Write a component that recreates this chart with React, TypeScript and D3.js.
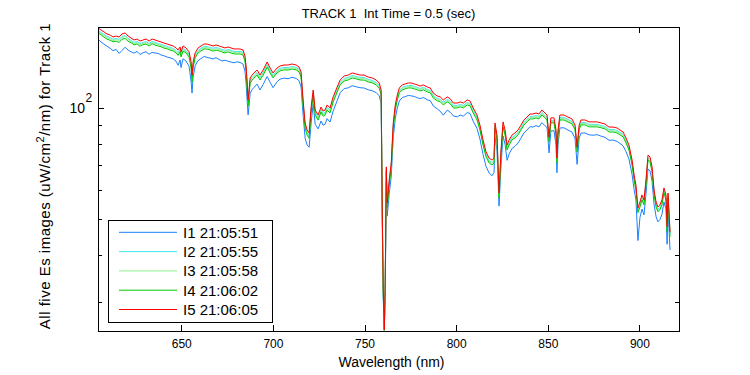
import * as d3 from "d3";

// wavelength grid (nm) shared by all five images
const wavelengths = [
  604.3, 605.9, 607.6, 609.2, 610.9, 612.5, 614.2, 615.8, 617.4, 619.1,
  620.7, 622.3, 624.0, 625.6, 627.2, 628.9, 630.5, 632.2, 633.8, 635.4,
  637.1, 638.7, 640.3, 642.0, 643.6, 645.3, 646.9, 648.0, 649.1, 649.6,
  650.7, 652.3, 654.0, 655.1, 655.6, 656.2, 657.3, 658.9, 660.5, 662.2,
  663.8, 665.4, 667.1, 668.7, 670.4, 672.0, 673.6, 675.3, 676.9, 678.5,
  680.2, 681.8, 683.4, 684.5, 685.1, 685.6, 686.2, 686.7, 687.3, 688.4,
  689.4, 691.1, 692.7, 694.4, 696.6, 698.2, 699.8, 702.0, 703.6, 705.8,
  708.0, 710.2, 712.4, 714.0, 715.1, 716.2, 717.3, 718.4, 719.5, 720.6,
  721.7, 722.8, 724.4, 726.0, 727.1, 728.2, 729.3, 730.9, 732.6, 734.8,
  736.4, 738.6, 740.8, 743.0, 745.1, 747.3, 749.5, 751.7, 753.9, 756.1,
  757.7, 758.8, 759.4, 759.9, 760.5, 761.0, 761.6, 762.1, 763.2, 764.3,
  765.4, 766.5, 767.6, 768.7, 770.3, 771.9, 773.6, 775.2, 776.9, 778.5,
  780.1, 781.8, 784.0, 785.6, 787.2, 789.4, 791.0, 792.7, 794.9, 796.5,
  798.2, 800.3, 802.0, 803.6, 805.8, 807.3, 809.0, 811.1, 812.7, 814.4,
  816.0, 817.7, 819.3, 820.4, 820.9, 822.0, 823.1, 824.2, 825.3, 826.4,
  827.5, 828.6, 830.2, 831.8, 833.5, 835.1, 836.7, 838.4, 840.0, 841.6,
  843.3, 844.9, 846.5, 848.2, 849.3, 850.4, 851.4, 853.1, 854.2, 854.7,
  855.3, 856.3, 858.5, 860.7, 862.9, 864.6, 865.7, 866.8, 867.8, 870.0,
  872.2, 874.4, 876.6, 878.8, 880.9, 883.1, 885.3, 887.5, 889.1, 890.8,
  892.4, 894.0, 895.7, 896.8, 897.8, 898.9, 900.0, 901.1, 902.2, 903.3,
  904.4, 905.5, 906.6, 907.7, 908.8, 909.8, 910.9, 912.0, 913.1, 914.2,
  914.8, 915.3, 916.4,
];

const i1 = [
  153.5, 151.0, 148.8, 147.0, 145.2, 143.0, 144.1, 140.5, 143.2, 146.0,
  143.5, 142.0, 140.8, 142.3, 139.6, 141.2, 142.0, 139.8, 141.5, 140.9,
  140.6, 139.2, 138.5, 137.4, 136.8, 135.9, 133.8, 130.6, 134.9, 128.7,
  136.0, 134.1, 129.8, 118.0, 109.9, 121.5, 130.2, 134.5, 136.1, 137.9,
  137.2, 136.5, 135.8, 136.9, 135.4, 134.1, 134.8, 133.9, 133.2, 132.6,
  133.4, 132.9, 131.6, 125.9, 116.8, 106.2, 96.0, 101.3, 109.5, 112.4,
  113.8, 116.2, 112.0, 115.9, 121.8, 117.5, 113.6, 117.9, 119.8, 120.6,
  120.1, 121.2, 120.4, 118.6, 114.2, 96.1, 83.2, 79.6, 78.5, 91.4,
  102.8, 90.5, 88.0, 92.4, 90.0, 90.6, 93.8, 91.8, 98.3, 104.9,
  110.1, 113.0, 113.5, 115.0, 114.3, 113.6, 113.4, 112.2, 111.5, 110.2,
  108.1, 103.0, 49.0, 31.0, 25.2, 31.2, 63.4, 51.2, 58.9, 65.4,
  83.5, 93.8, 100.2, 104.6, 106.9, 107.5, 108.3, 108.0, 107.6, 106.8,
  106.2, 106.9, 105.4, 104.8, 101.5, 99.6, 98.2, 95.8, 98.9, 97.5,
  95.4, 94.8, 95.9, 95.2, 97.4, 96.8, 92.3, 88.2, 82.6, 75.0,
  69.8, 66.9, 65.8, 67.2, 83.8, 77.0, 54.5, 70.3, 84.2, 79.9,
  72.4, 75.3, 77.9, 79.0, 80.6, 83.1, 85.8, 87.4, 89.2, 89.0,
  89.8, 89.1, 91.5, 89.7, 88.6, 75.8, 86.9, 87.0, 79.5, 67.0,
  79.8, 88.5, 88.6, 87.4, 86.3, 82.8, 70.6, 82.9, 85.7, 85.8,
  84.8, 84.6, 84.9, 84.1, 83.5, 82.0, 82.1, 81.4, 80.4, 79.2,
  76.4, 73.0, 66.2, 60.4, 56.6, 44.0, 50.8, 53.5, 51.6, 58.8,
  68.6, 67.8, 63.6, 55.1, 51.0, 49.4, 50.1, 51.8, 55.9, 53.4,
  43.0, 53.9, 41.5,
];

const i2 = [
  162.1, 160.2, 158.2, 156.2, 155.2, 153.3, 154.3, 153.3, 156.2, 157.2,
  154.3, 152.4, 150.5, 151.4, 149.5, 150.5, 151.4, 149.5, 151.4, 150.5,
  149.5, 148.6, 147.7, 146.8, 145.9, 145.0, 143.2, 141.4, 144.1, 139.8,
  145.0, 143.2, 139.8, 131.3, 121.1, 131.3, 138.9, 143.2, 145.0, 146.8,
  146.8, 145.9, 145.0, 145.9, 145.0, 144.1, 143.2, 144.1, 143.2, 142.3,
  142.3, 142.3, 141.4, 136.2, 128.1, 117.4, 103.7, 110.3, 118.9, 121.1,
  122.6, 124.9, 121.1, 124.9, 131.3, 126.5, 122.6, 126.5, 128.1, 128.8,
  128.8, 129.6, 128.8, 127.3, 123.4, 103.7, 89.9, 86.1, 84.5, 99.3,
  110.3, 97.4, 94.5, 99.3, 96.8, 97.4, 100.6, 98.7, 105.7, 112.4,
  117.4, 120.4, 121.1, 122.6, 121.8, 121.1, 121.1, 119.6, 118.9, 117.4,
  115.2, 110.3, 52.4, 32.9, 25.2, 32.9, 68.5, 54.8, 63.1, 70.1,
  89.9, 100.6, 107.0, 111.7, 113.9, 114.6, 115.2, 115.2, 114.6, 113.9,
  113.1, 113.9, 112.4, 111.7, 108.3, 106.3, 105.7, 103.7, 105.7, 104.4,
  101.8, 101.8, 102.4, 101.8, 103.7, 103.0, 98.7, 94.5, 88.7, 80.9,
  75.2, 72.3, 71.4, 72.3, 89.9, 83.4, 58.2, 76.0, 90.5, 86.1,
  78.4, 80.9, 83.4, 84.5, 86.1, 88.7, 91.6, 93.3, 95.1, 95.1,
  95.6, 95.1, 97.4, 95.6, 94.5, 82.4, 92.8, 92.8, 86.1, 72.3,
  86.1, 94.5, 94.5, 93.3, 92.2, 88.7, 77.4, 88.7, 91.6, 91.6,
  90.5, 90.5, 90.5, 89.9, 89.3, 87.7, 87.7, 87.2, 86.1, 85.0,
  81.9, 78.4, 71.4, 65.1, 61.2, 53.1, 55.1, 57.5, 55.8, 63.1,
  73.7, 72.8, 68.5, 59.3, 55.1, 53.4, 54.1, 55.8, 60.1, 57.5,
  47.2, 58.2, 45.7,
];

const i3 = [
  161.0, 159.0, 157.1, 155.1, 154.1, 152.2, 153.2, 152.2, 155.1, 156.1,
  153.2, 151.3, 149.4, 150.3, 148.5, 149.4, 150.3, 148.5, 150.3, 149.4,
  148.5, 147.6, 146.6, 145.7, 144.8, 144.0, 142.2, 140.4, 143.1, 138.8,
  144.0, 142.2, 138.8, 130.4, 120.2, 130.4, 137.9, 142.2, 144.0, 145.7,
  145.7, 144.8, 144.0, 144.8, 144.0, 143.1, 142.2, 143.1, 142.2, 141.3,
  141.3, 141.3, 140.4, 135.3, 127.1, 116.6, 103.0, 109.5, 118.0, 120.2,
  121.8, 124.0, 120.2, 124.0, 130.4, 125.6, 121.8, 125.6, 127.1, 127.9,
  127.9, 128.7, 127.9, 126.4, 122.5, 103.0, 89.3, 85.5, 83.9, 98.6,
  109.5, 96.7, 93.8, 98.6, 96.1, 96.7, 99.9, 98.0, 104.9, 111.6,
  116.6, 119.5, 120.2, 121.8, 121.0, 120.2, 120.2, 118.7, 118.0, 116.6,
  114.4, 109.5, 52.0, 32.7, 25.2, 32.7, 68.0, 54.4, 62.7, 69.6,
  89.3, 99.9, 106.2, 110.9, 113.1, 113.7, 114.4, 114.4, 113.7, 113.1,
  112.3, 113.1, 111.6, 110.9, 107.5, 105.5, 104.9, 103.0, 104.9, 103.7,
  101.0, 101.0, 101.7, 101.0, 103.0, 102.3, 98.0, 93.8, 88.1, 80.3,
  74.6, 71.8, 70.9, 71.8, 89.3, 82.8, 57.8, 75.5, 89.9, 85.5,
  77.8, 80.3, 82.8, 83.9, 85.5, 88.1, 91.0, 92.6, 94.4, 94.4,
  95.0, 94.4, 96.7, 95.0, 93.8, 81.9, 92.1, 92.1, 85.5, 71.8,
  85.5, 93.8, 93.8, 92.6, 91.5, 88.1, 76.9, 88.1, 91.0, 91.0,
  89.9, 89.9, 89.9, 89.3, 88.7, 87.0, 87.0, 86.6, 85.5, 84.4,
  81.3, 77.8, 70.9, 64.6, 60.7, 52.7, 54.7, 57.1, 55.4, 62.7,
  73.2, 72.3, 68.0, 58.9, 54.7, 53.0, 53.7, 55.4, 59.7, 57.1,
  48.5, 58.6, 46.9,
];

const i4 = [
  159.5, 157.9, 155.4, 153.6, 152.5, 151.2, 151.6, 150.4, 153.5, 154.2,
  151.6, 150.2, 148.3, 149.1, 147.0, 148.4, 149.0, 147.1, 149.3, 148.0,
  147.2, 146.5, 145.3, 144.6, 143.5, 142.8, 141.0, 138.9, 141.9, 137.5,
  142.6, 141.1, 137.4, 128.6, 117.6, 128.8, 136.7, 141.0, 142.8, 144.5,
  144.4, 143.7, 142.6, 143.5, 142.8, 141.8, 141.0, 141.9, 140.9, 140.2,
  140.0, 140.1, 139.2, 133.9, 125.7, 114.8, 101.3, 108.4, 116.8, 119.1,
  120.6, 122.9, 119.2, 122.8, 129.1, 124.5, 120.8, 124.6, 126.1, 126.9,
  126.8, 127.6, 126.9, 125.3, 121.4, 101.9, 88.4, 84.6, 83.0, 97.6,
  108.6, 95.8, 92.9, 97.7, 95.2, 95.9, 98.9, 97.1, 104.0, 110.6,
  115.6, 118.4, 119.2, 120.7, 120.0, 119.2, 119.1, 117.8, 117.1, 115.6,
  113.4, 108.6, 51.6, 32.4, 25.2, 32.5, 67.4, 53.9, 62.2, 69.1,
  88.6, 99.0, 105.3, 110.0, 112.1, 112.8, 113.5, 113.4, 112.8, 112.1,
  111.4, 112.1, 110.7, 110.0, 106.6, 104.7, 104.1, 102.1, 104.1, 102.8,
  100.2, 100.2, 100.9, 100.2, 102.1, 101.5, 97.2, 93.0, 87.4, 79.6,
  74.0, 71.2, 70.3, 71.2, 88.6, 82.2, 57.3, 74.9, 89.1, 84.8,
  77.2, 79.6, 82.2, 83.2, 84.8, 87.4, 90.2, 91.9, 93.6, 93.6,
  94.2, 93.6, 95.9, 94.2, 93.0, 81.2, 91.4, 91.4, 84.8, 71.2,
  84.8, 93.0, 93.0, 91.9, 90.8, 87.4, 76.2, 87.4, 90.2, 90.2,
  89.1, 89.1, 89.1, 88.6, 88.0, 86.3, 86.3, 85.8, 84.8, 83.7,
  80.6, 77.2, 70.3, 64.1, 60.2, 52.3, 54.2, 56.6, 54.9, 62.2,
  72.6, 71.7, 67.4, 58.4, 54.2, 52.6, 53.3, 54.9, 59.2, 56.6,
  46.5, 57.3, 45.0,
];

const i5 = [
  164.6, 162.6, 160.6, 158.6, 157.6, 155.6, 156.6, 155.6, 158.6, 159.6,
  156.6, 154.7, 152.8, 153.7, 151.8, 152.8, 153.7, 151.8, 153.7, 152.8,
  151.8, 150.9, 149.9, 149.0, 148.1, 147.2, 145.4, 143.6, 146.3, 141.9,
  147.2, 145.4, 141.9, 133.3, 122.9, 133.3, 141.0, 145.4, 147.2, 149.0,
  149.0, 148.1, 147.2, 148.1, 147.2, 146.3, 145.4, 146.3, 145.4, 144.5,
  144.5, 144.5, 143.6, 138.3, 130.0, 119.2, 105.3, 112.0, 120.7, 122.9,
  124.5, 126.8, 122.9, 126.8, 133.3, 128.4, 124.5, 128.4, 130.0, 130.8,
  130.8, 131.6, 130.8, 129.2, 125.3, 105.3, 91.3, 87.4, 85.8, 100.8,
  112.0, 98.9, 95.9, 100.8, 98.3, 98.9, 102.1, 100.2, 107.3, 114.1,
  119.2, 122.2, 122.9, 124.5, 123.7, 122.9, 122.9, 121.4, 120.7, 119.2,
  117.0, 112.0, 53.2, 33.4, 25.3, 33.4, 69.5, 55.6, 64.1, 71.2,
  91.3, 102.1, 108.6, 113.4, 115.6, 116.3, 117.0, 117.0, 116.3, 115.6,
  114.8, 115.6, 114.1, 113.4, 109.9, 107.9, 107.3, 105.3, 107.3, 106.0,
  103.3, 103.3, 104.0, 103.3, 105.3, 104.6, 100.2, 95.9, 90.1, 82.1,
  76.3, 73.4, 72.5, 73.4, 91.3, 84.7, 59.1, 77.2, 91.9, 87.4,
  79.6, 82.1, 84.7, 85.8, 87.4, 90.1, 93.0, 94.7, 96.5, 96.5,
  97.1, 96.5, 98.9, 97.1, 95.9, 83.7, 94.2, 94.2, 87.4, 73.4,
  87.4, 95.9, 95.9, 94.7, 93.6, 90.1, 78.6, 90.1, 93.0, 93.0,
  91.9, 91.9, 91.9, 91.3, 90.7, 89.0, 89.0, 88.5, 87.4, 86.3,
  83.1, 79.6, 72.5, 66.1, 62.1, 53.9, 55.9, 58.4, 56.6, 64.1,
  74.8, 73.9, 69.5, 60.2, 55.9, 54.2, 54.9, 56.6, 61.0, 58.4,
  47.9, 59.1, 46.4,
];

const seriesNames = ["I1 21:05:51", "I2 21:05:55", "I3 21:05:58", "I4 21:06:02", "I5 21:06:05"];
const seriesColors = ["#1a80ff", "#40e8f0", "#90f090", "#00c800", "#ff0000"];
const seriesValues = [i1, i2, i3, i4, i5];

const xTicks = [650, 700, 750, 800, 850, 900];
const yMinorTicks = [30, 40, 50, 60, 70, 80, 90];

const W = 750;
const H = 375;
const plot = { left: 98, right: 679, top: 27, bottom: 331 };
const font = "'Liberation Sans', Arial, sans-serif";

const App = () => {
  const x = d3.scaleLinear().domain([604.3, 921.3]).range([plot.left, plot.right]);
  const y = d3.scaleLog().domain([25.1, 165.6]).range([plot.bottom, plot.top]);

  const line = d3
    .line<number>()
    .x((_, i) => x(wavelengths[i]))
    .y((d) => y(d));

  const legend = { x: 108, y: 220, w: 164, h: 102, row: 19.3 };

  return (
    <svg
      width={W}
      height={H}
      style={{ position: "absolute", left: 0, top: 0, background: "#fff" }}
      fontFamily={font}
    >
      <defs>
        <clipPath id="plotClip">
          <rect x={plot.left} y={plot.top} width={plot.right - plot.left} height={plot.bottom - plot.top} />
        </clipPath>
      </defs>

      <g clipPath="url(#plotClip)">
        {seriesValues.map((vals, k) => (
          <path key={k} d={line(vals) ?? ""} fill="none" stroke={seriesColors[k]} strokeWidth={1} />
        ))}
      </g>

      {/* box */}
      <rect
        x={plot.left}
        y={plot.top}
        width={plot.right - plot.left}
        height={plot.bottom - plot.top}
        fill="none"
        stroke="#000"
        strokeWidth={1}
        shapeRendering="crispEdges"
      />

      {/* x ticks top and bottom */}
      {xTicks.map((t) => (
        <g key={t} shapeRendering="crispEdges">
          <line x1={x(t)} x2={x(t)} y1={plot.bottom} y2={plot.bottom - 6} stroke="#000" />
          <line x1={x(t)} x2={x(t)} y1={plot.top} y2={plot.top + 6} stroke="#000" />
          <text x={x(t)} y={plot.bottom + 17} fontSize={12} textAnchor="middle">
            {t}
          </text>
        </g>
      ))}

      {/* y ticks, log scale */}
      <g shapeRendering="crispEdges">
        <line x1={plot.left} x2={plot.left + 6} y1={y(100)} y2={y(100)} stroke="#000" />
        <line x1={plot.right} x2={plot.right - 6} y1={y(100)} y2={y(100)} stroke="#000" />
        {yMinorTicks.map((t) => (
          <g key={t}>
            <line x1={plot.left} x2={plot.left + 4} y1={y(t)} y2={y(t)} stroke="#000" />
            <line x1={plot.right} x2={plot.right - 4} y1={y(t)} y2={y(t)} stroke="#000" />
          </g>
        ))}
      </g>
      <text x={85} y={y(100) + 5} fontSize={14} textAnchor="end">
        10
      </text>
      <text x={85.5} y={y(100) - 6} fontSize={12}>
        2
      </text>

      {/* title and axis labels */}
      <text
        x={(plot.left + plot.right) / 2}
        y={18}
        fontSize={13}
        textAnchor="middle"
        style={{ whiteSpace: "pre" }}
      >
        {"TRACK 1  Int Time = 0.5 (sec)"}
      </text>
      <text x={(plot.left + plot.right) / 2 + 3} y={367} fontSize={14} textAnchor="middle">
        Wavelength (nm)
      </text>
      <text
        transform={`translate(50,176) rotate(-90)`}
        fontSize={15}
        letterSpacing={0.5}
        textAnchor="middle"
        style={{ whiteSpace: "pre" }}
      >
        All five Es images (uW/cm
        <tspan dy={-6} fontSize={11}>2</tspan>
        <tspan dy={6}>/nm) for Track 1</tspan>
      </text>

      {/* legend */}
      <rect
        x={legend.x}
        y={legend.y}
        width={legend.w}
        height={legend.h}
        fill="#fff"
        stroke="#000"
        shapeRendering="crispEdges"
      />
      {seriesNames.map((name, k) => {
        const cy = legend.y + 12.3 + k * legend.row;
        return (
          <g key={name}>
            <line x1={119} x2={177} y1={cy} y2={cy} stroke={seriesColors[k]} strokeWidth={1} />
            <text x={183} y={cy + 5.5} fontSize={15}>
              {name}
            </text>
          </g>
        );
      })}
    </svg>
  );
};

export default App;
